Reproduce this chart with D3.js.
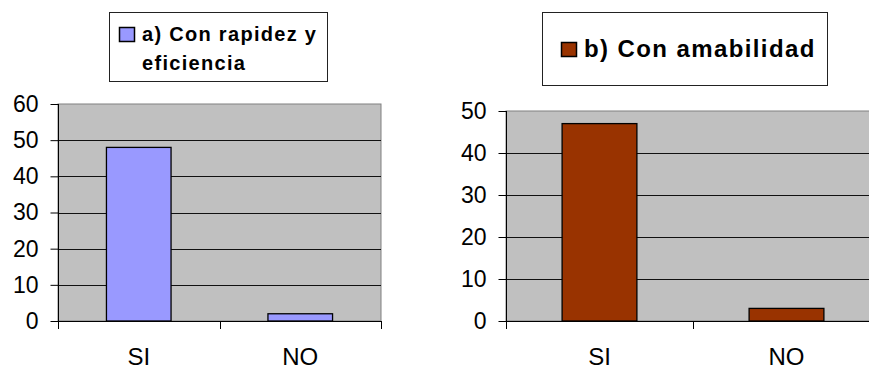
<!DOCTYPE html>
<html>
<head>
<meta charset="utf-8">
<script src="https://cdn.jsdelivr.net/npm/d3@7"></script>
<style>
html,body{margin:0;padding:0;background:#fff;}
svg{display:block;font-family:"Liberation Sans",Arial,sans-serif;}
</style>
</head>
<body>
<svg id="chart" width="869" height="370"></svg>
<script>
const categories = ["SI", "NO"];
const valuesA = [48, 2];
const valuesB = [47, 3];
const ticksA = [0, 10, 20, 30, 40, 50, 60];
const ticksB = [0, 10, 20, 30, 40, 50];
const legendA = ["a) Con rapidez y", "eficiencia"];
const legendB = ["b) Con amabilidad"];
const colorA = "#9999FF";
const colorB = "#993300";

const svg = d3.select("#chart");

function drawChart(cfg) {
  const g = svg.append("g");
  const x = d3.scaleBand().domain(cfg.categories).range([cfg.x0, cfg.x1]).paddingInner(0.6).paddingOuter(0.3);
  const y = d3.scaleLinear().domain([0, d3.max(cfg.ticks)]).range([cfg.y0, cfg.y1]);

  // plot area
  g.append("rect")
    .attr("x", cfg.x0).attr("y", y(d3.max(cfg.ticks)))
    .attr("width", cfg.x1 - cfg.x0).attr("height", cfg.y0 - cfg.y1)
    .attr("fill", "#C0C0C0").attr("stroke", "#808080").attr("stroke-width", 1);

  // gridlines
  g.selectAll(".grid").data(cfg.ticks.filter(t => t > 0 && t < d3.max(cfg.ticks))).enter()
    .append("line")
    .attr("x1", cfg.x0).attr("x2", cfg.x1)
    .attr("y1", d => Math.round(y(d)) + 0.5).attr("y2", d => Math.round(y(d)) + 0.5)
    .attr("stroke", "#111").attr("stroke-width", 1);

  // bars
  g.selectAll(".bar").data(cfg.values).enter().append("rect")
    .attr("x", (d, i) => x(cfg.categories[i]))
    .attr("y", d => y(d))
    .attr("width", x.bandwidth())
    .attr("height", d => y(0) - y(d))
    .attr("fill", cfg.color).attr("stroke", "#000").attr("stroke-width", 1.3);

  // y axis
  const yAxis = d3.axisLeft(y).tickValues(cfg.ticks).tickSize(8).tickPadding(12).tickFormat(d3.format("d"));
  const ya = g.append("g").attr("transform", `translate(${cfg.x0 + 0.5},0)`).call(yAxis);
  ya.select(".domain").attr("stroke", "#000").attr("d", `M-0,${cfg.y1}V${cfg.y0 + 8}`);
  ya.selectAll(".tick line").attr("stroke", "#000");
  ya.selectAll(".tick text").attr("font-size", 23).attr("fill", "#000")
    .attr("font-family", "'Liberation Sans', Arial, sans-serif");

  // x axis line
  g.append("line").attr("x1", cfg.x0).attr("x2", cfg.x1)
    .attr("y1", cfg.y0 + 0.5).attr("y2", cfg.y0 + 0.5).attr("stroke", "#000");
  // category boundary ticks
  const bounds = [cfg.x0].concat(cfg.categories.map(c => x(c) - x.step() * 0.3 + x.step()));
  g.selectAll(".xt").data(bounds).enter().append("line")
    .attr("x1", d => Math.round(d) + 0.5).attr("x2", d => Math.round(d) + 0.5)
    .attr("y1", cfg.y0).attr("y2", cfg.y0 + 8).attr("stroke", "#000");

  // category labels
  g.selectAll(".xl").data(cfg.categories).enter().append("text")
    .attr("x", d => x(d) + x.bandwidth() / 2)
    .attr("y", 365)
    .attr("text-anchor", "middle").attr("font-size", 24).attr("fill", "#000")
    .text(d => d);

  // legend
  const L = cfg.legend;
  g.append("rect").attr("x", L.x + 0.5).attr("y", L.y + 0.5).attr("width", L.w).attr("height", L.h)
    .attr("fill", "#fff").attr("stroke", "#222").attr("stroke-width", 1);
  g.append("rect").attr("x", L.sx + 0.5).attr("y", L.sy + 0.5).attr("width", L.ss).attr("height", L.ss - 1)
    .attr("fill", cfg.color).attr("stroke", "#000").attr("stroke-width", 1.5);
  g.selectAll(".lt").data(cfg.legendLines).enter().append("text")
    .attr("x", L.tx).attr("y", (d, i) => L.ty + i * L.lh)
    .attr("font-size", L.fs).attr("font-weight", "bold").attr("letter-spacing", L.ls)
    .attr("fill", "#000").text(d => d);
}

drawChart({
  categories: categories, values: valuesA, ticks: ticksA, color: colorA,
  x0: 58, x1: 381, y0: 321, y1: 104,
  legendLines: legendA,
  legend: {x: 109, y: 12, w: 218, h: 69, sx: 119, sy: 27, ss: 15, tx: 142, ty: 41, lh: 29, fs: 20, ls: 1.3}
});

drawChart({
  categories: categories, values: valuesB, ticks: ticksB, color: colorB,
  x0: 506, x1: 880, y0: 321, y1: 111,
  legendLines: legendB,
  legend: {x: 542, y: 12, w: 285, h: 73, sx: 561, sy: 42, ss: 15, tx: 584, ty: 57, lh: 29, fs: 24, ls: 1.4}
});
</script>
</body>
</html>
